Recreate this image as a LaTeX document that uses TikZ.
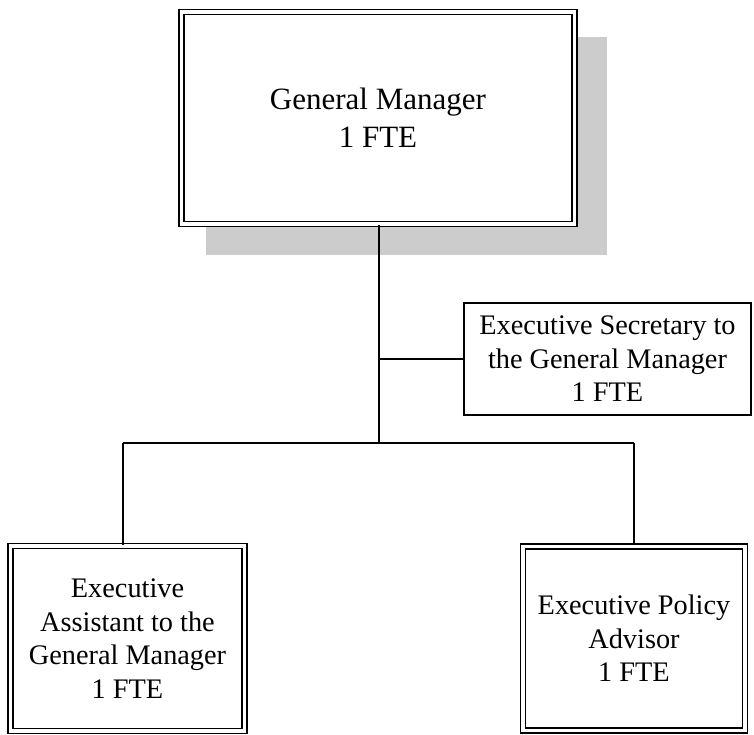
\documentclass[tikz,border=0pt]{standalone}
\usepackage{fontspec}
\setmainfont{Liberation Serif}
\begin{document}
\begin{tikzpicture}[x=1pt,y=1pt,
  dbox/.style={draw, double, double distance=3.4pt, line width=1.7pt, fill=white, align=center, inner sep=0pt},
  sbox/.style={draw, line width=1.8pt, fill=white, align=center, inner sep=0pt},
  conn/.style={line width=1.9pt},
  bigtext/.style={font=\fontsize{31}{38.5}\selectfont},
  smalltext/.style={font=\fontsize{28.3}{33.5}\selectfont}]
\useasboundingbox (0,0) rectangle (754,735);
% shadow of the top box
\fill[black!20] (206,480) rectangle (607,698);
\node[dbox, bigtext, minimum width=393.5pt, minimum height=212pt] (gm) at (378,617) {General Manager\\1 FTE};
\node[sbox, smalltext, minimum width=287pt, minimum height=112pt] (sec) at (607.5,376) {Executive Secretary to\\the General Manager\\1 FTE};
\node[dbox, smalltext, minimum width=234pt, minimum height=185pt] (ea) at (127.5,96.5) {Executive\\Assistant to the\\General Manager\\1 FTE};
\node[dbox, smalltext, minimum width=222pt, minimum height=184.5pt] (pa) at (634,96.5) {Executive Policy\\Advisor\\1 FTE};
\coordinate (trunk) at (379,292);
\coordinate (bl) at (123,292);
\coordinate (br) at (634,292);
\draw[conn] (gm.south -| trunk) -- (trunk);
\draw[conn] (sec.west) -- (sec.west -| trunk);
\draw[conn] (bl) -- (br);
\draw[conn] (bl) -- (bl |- ea.north);
\draw[conn] (br) -- (br |- pa.north);
\end{tikzpicture}
\end{document}
